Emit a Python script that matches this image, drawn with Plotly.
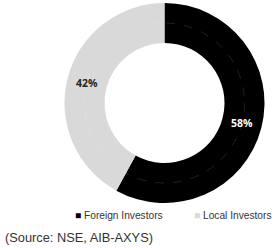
import plotly.graph_objects as go

labels = ["Foreign Investors", "Local Investors"]
values = [58, 42]
colors = ["#000000", "#d9d9d9"]
text_colors = ["#ffffff", "#222222"]
source_text = "(Source: NSE, AIB-AXYS)"

W, H = 276, 248

fig = go.Figure()
fig.add_trace(go.Pie(
    labels=labels,
    values=values,
    hole=0.6,
    sort=False,
    direction="clockwise",
    rotation=0,
    marker=dict(colors=colors, line=dict(width=0)),
    texttemplate="%{percent:.0%}",
    textposition="inside",
    insidetextorientation="horizontal",
    insidetextfont=dict(color=text_colors, family="Open Sans", size=10.5, weight="bold"),
    showlegend=False,
    hoverinfo="skip",
    domain=dict(x=[64 / W, 265 / W], y=[1 - 203 / H, 1 - 3 / H]),
))

# faint dashed guide circle inside the ring
cx, cy, r = 164.5, 103, 80
fig.add_shape(type="circle", xref="paper", yref="paper",
              x0=(cx - r) / W, x1=(cx + r) / W,
              y0=1 - (cy + r) / H, y1=1 - (cy - r) / H,
              line=dict(color="rgba(255,255,255,0.12)", width=1, dash="dash"))

# legend row
legend_x = [73, 274]
legend_anchor = ["left", "right"]
for lab, col, lx, anc in zip(labels, colors, legend_x, legend_anchor):
    fig.add_annotation(
        x=lx / W, y=1 - 215 / H, xref="paper", yref="paper",
        xanchor=anc, yanchor="middle", showarrow=False,
        text=f"<span style='color:{col}'>■</span> {lab}",
        font=dict(family="Liberation Sans", size=10.2, color="#333333"),
    )

fig.add_annotation(
    x=3 / W, y=1 - 237 / H, xref="paper", yref="paper",
    xanchor="left", yanchor="middle", showarrow=False,
    text=source_text,
    font=dict(family="Liberation Sans", size=12.8, color="#333333"),
)

fig.update_layout(
    width=W, height=H,
    margin=dict(l=0, r=0, t=0, b=0),
    paper_bgcolor="white", plot_bgcolor="white",
)

fig.write_html("out.html",
               config={"displayModeBar": False, "staticPlot": True},
               post_script="document.body.style.margin='0';document.body.style.overflow='hidden';")
